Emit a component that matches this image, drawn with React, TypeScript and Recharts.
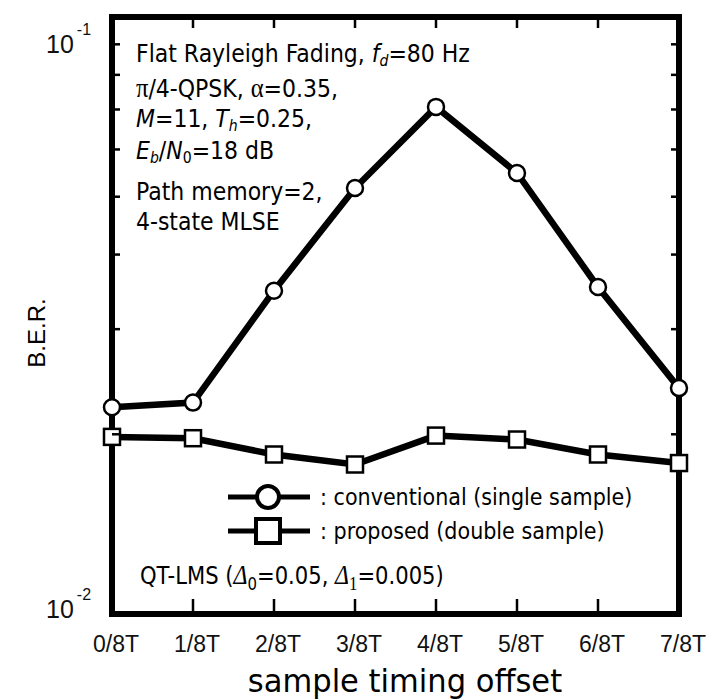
import { Legend, Line, LineChart, ReferenceArea, XAxis, YAxis } from 'recharts';

const offsets = ['0/8T', '1/8T', '2/8T', '3/8T', '4/8T', '5/8T', '6/8T', '7/8T'];
const conventional = [0.0222, 0.0226, 0.0348, 0.0517, 0.0707, 0.0548, 0.0353, 0.0239];
const proposed = [0.0198, 0.0197, 0.0185, 0.0178, 0.0199, 0.0196, 0.0185, 0.0179];
const berTicks = [0.01, 0.02, 0.03, 0.04, 0.05, 0.06, 0.07, 0.08, 0.09, 0.1];
const decades = [0.01, 0.1];

const data = offsets.map((t, i) => ({ t, conventional: conventional[i], proposed: proposed[i] }));

const SANS = '"DejaVu Sans", Verdana, sans-serif';
const AXIS = '"Liberation Sans", Arial, sans-serif';
const SERIF = '"Liberation Serif", "Times New Roman", serif';

// DejaVu squeezed a bit so it reads closer to the narrow sans of the original
const Txt = ({ x, y, sx = 0.88, children, ...rest }: any) => (
  <text transform={`translate(${x} ${y}) scale(${sx} 1)`} {...rest}>
    {children}
  </text>
);

// axes are 1px thick (recharts skips 0-sized axes), ticks drawn inward by hand
const BottomTick = ({ x, y, payload }: any) => (
  <g>
    <line x1={x} x2={x} y1={y - 1} y2={y - 15} stroke="#000" strokeWidth={2.5} />
    <text x={x + 4} y={y + 38} textAnchor="middle" fontFamily={AXIS} fontSize={23} fill="#111">
      {payload.value}
    </text>
  </g>
);

const TopTick = ({ x, y }: any) => (
  <line x1={x} x2={x} y1={y} y2={y + 11} stroke="#000" strokeWidth={2.5} />
);

const LeftTick = ({ x, y, payload }: any) => {
  const v = payload.value;
  if (!decades.includes(v)) {
    return <line x1={x} x2={x + 8} y1={y} y2={y} stroke="#000" strokeWidth={2.5} />;
  }
  const exp = Math.round(Math.log10(v));
  const base = v === 0.1 ? y + 36 : y + 4;
  return (
    <text x={46} y={base} fontFamily={AXIS} fontSize={25} fill="#111">
      10
      <tspan dx={3} dy={-18} fontSize={16}>
        {exp}
      </tspan>
    </text>
  );
};

const RightTick = ({ x, y, payload }: any) =>
  decades.includes(payload.value) ? null : (
    <line x1={x} x2={x - 8} y1={y} y2={y} stroke="#000" strokeWidth={2.5} />
  );

const SquareDot = ({ cx, cy, index }: any) =>
  cx == null ? null : (
    <rect
      key={index}
      x={cx - 8}
      y={cy - 8}
      width={16}
      height={16}
      fill="#fff"
      stroke="#000"
      strokeWidth={2.5}
    />
  );

const LegendBox = ({ payload }: any) => (
  <svg width={440} height={70} style={{ overflow: 'visible' }}>
    {(payload || []).map((entry: any, i: number) => {
      const cy = 17 + i * 34;
      return (
        <g key={entry.value}>
          <line x1={2} x2={84} y1={cy} y2={cy} stroke="#000" strokeWidth={5} />
          {entry.dataKey === 'conventional' ? (
            <circle cx={42} cy={cy} r={11} fill="#fff" stroke="#000" strokeWidth={4} />
          ) : (
            <rect x={30} y={cy - 12} width={24} height={24} fill="#fff" stroke="#000" strokeWidth={4} />
          )}
          <Txt x={94} y={cy + 8} fontFamily={SANS} fontSize={23.5} fill="#000">
            : {entry.value}
          </Txt>
        </g>
      );
    })}
  </svg>
);

export default function App() {
  return (
    <div style={{ position: 'absolute', left: 0, top: 0, width: 712, height: 700, background: '#fff' }}>
      <LineChart
        width={712}
        height={700}
        data={data}
        margin={{ top: 16, right: 32, bottom: 85, left: 111 }}
      >
        <XAxis
          dataKey="t"
          height={1}
          axisLine={false}
          tickLine={false}
          tickSize={0}
          tickMargin={0}
          interval={0}
          padding={{ left: 0, right: 0 }}
          tick={BottomTick}
        />
        <XAxis
          xAxisId="top"
          dataKey="t"
          orientation="top"
          height={1}
          axisLine={false}
          tickLine={false}
          tickSize={0}
          tickMargin={0}
          interval={0}
          tick={TopTick}
        />
        <YAxis
          scale="log"
          type="number"
          domain={[0.01, 0.1]}
          allowDataOverflow
          ticks={berTicks}
          interval={0}
          width={1}
          axisLine={false}
          tickLine={false}
          tickSize={0}
          tickMargin={0}
          tick={LeftTick}
        />
        <YAxis
          yAxisId="right"
          orientation="right"
          scale="log"
          type="number"
          domain={[0.01, 0.1]}
          allowDataOverflow
          ticks={berTicks}
          interval={0}
          width={1}
          axisLine={false}
          tickLine={false}
          tickSize={0}
          tickMargin={0}
          tick={RightTick}
        />
        <ReferenceArea
          x1="0/8T"
          x2="7/8T"
          y1={0.01}
          y2={0.1}
          fill="none"
          stroke="#000"
          strokeWidth={6}
          fillOpacity={0}
          ifOverflow="visible"
        />
        <Line
          dataKey="conventional"
          name="conventional (single sample)"
          stroke="#000"
          strokeWidth={6.5}
          dot={{ r: 8, fill: '#fff', stroke: '#000', strokeWidth: 2.5 }}
          isAnimationActive={false}
        />
        <Line
          dataKey="proposed"
          name="proposed (double sample)"
          stroke="#000"
          strokeWidth={6.5}
          dot={SquareDot}
          isAnimationActive={false}
        />
        <Legend
          layout="horizontal"
          verticalAlign="middle"
          align="center"
          wrapperStyle={{ left: 226, top: 480, width: 440, height: 70 }}
          content={LegendBox}
        />
      </LineChart>
      <svg
        width={712}
        height={700}
        style={{ position: 'absolute', left: 0, top: 0, pointerEvents: 'none' }}
        fontFamily={SANS}
        fontSize={25}
        fill="#000"
      >
        <Txt x={136} y={62}>
          Flat Rayleigh Fading, <tspan fontStyle="italic">f</tspan>
          <tspan fontStyle="italic" fontSize={16} dy={4}>d</tspan>
          <tspan dy={-4}>=80 Hz</tspan>
        </Txt>
        <Txt x={136} y={97}>
          <tspan fontFamily={SERIF} fontSize={28}>π</tspan>/4-QPSK, <tspan fontFamily={SERIF} fontSize={28}>α</tspan>=0.35,
        </Txt>
        <Txt x={136} y={127}>
          <tspan fontStyle="italic">M</tspan>=11, <tspan fontStyle="italic">T</tspan>
          <tspan fontStyle="italic" fontSize={16} dy={4}>h</tspan>
          <tspan dy={-4}>=0.25,</tspan>
        </Txt>
        <Txt x={136} y={159}>
          <tspan fontStyle="italic">E</tspan>
          <tspan fontStyle="italic" fontSize={16} dy={4}>b</tspan>
          <tspan dy={-4}>/</tspan>
          <tspan fontStyle="italic">N</tspan>
          <tspan fontSize={16} dy={4}>0</tspan>
          <tspan dy={-4}>=18 dB</tspan>
        </Txt>
        <Txt x={136} y={200}>Path memory=2,</Txt>
        <Txt x={136} y={230}>4-state MLSE</Txt>
        <Txt x={140} y={584} fontSize={24}>
          QT-LMS (<tspan fontFamily={SERIF} fontStyle="italic" fontSize={27}>Δ</tspan>
          <tspan fontSize={17} dy={6}>0</tspan>
          <tspan dy={-6}>=0.05, </tspan>
          <tspan fontFamily={SERIF} fontStyle="italic" fontSize={27}>Δ</tspan>
          <tspan fontFamily={SERIF} fontSize={19} dy={6}>1</tspan>
          <tspan dy={-6}>=0.005)</tspan>
        </Txt>
        <Txt x={405} y={692} sx={0.955} textAnchor="middle" fontSize={32}>
          sample timing offset
        </Txt>
        <text transform="translate(45,333) rotate(-90)" textAnchor="middle" fontFamily={AXIS} fontSize={24}>
          B.E.R.
        </text>
      </svg>
    </div>
  );
}
